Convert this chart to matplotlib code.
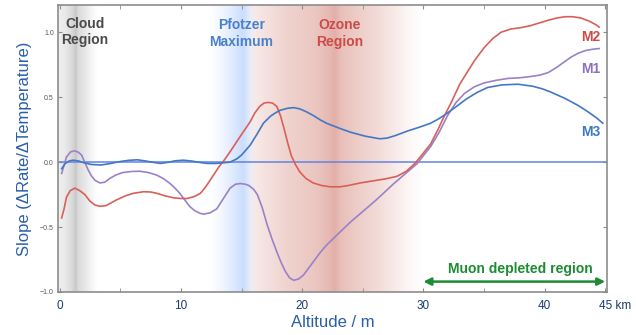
import numpy as np
import matplotlib
matplotlib.use("Agg")
import matplotlib.pyplot as plt
from matplotlib.ticker import FixedLocator
from matplotlib.transforms import ScaledTranslation

plt.rcParams['font.family'] = ['Liberation Sans', 'DejaVu Sans']

# ---- data: slope of count rate vs temperature along altitude (km) ----
m1_alt = [0.15, 0.55, 0.9, 1.24, 1.55, 1.8, 2.05, 2.34, 2.6, 2.9, 3.3, 3.7, 4.13, 4.6,
          5.2, 5.9, 6.6, 7.3, 8.0, 8.6, 9.1, 9.5, 9.9, 10.3, 10.7, 11.15, 11.6, 11.9,
          12.4, 12.95, 13.5, 14.05, 14.5, 14.9, 15.3, 15.6, 16.0, 16.3, 16.7, 17.1, 17.5,
          17.9, 18.25, 18.6, 18.95, 19.3, 19.7, 20.1, 20.5, 20.9, 21.45, 22.0, 22.55,
          23.1, 24.0, 25.0, 26.0, 26.7, 27.5, 28.5, 29.5, 30.0, 30.6, 31.3, 32.0, 32.7,
          33.4, 34.2, 35.0, 36.0, 37.0, 38.0, 38.9, 39.6, 40.3, 41.0, 41.6, 42.2, 42.8,
          43.4, 44.0, 44.5]
m1_slope = [-0.087, 0.04, 0.08, 0.087, 0.075, 0.054, 0.0, -0.06, -0.105, -0.14, -0.16,
            -0.155, -0.125, -0.10, -0.08, -0.072, -0.07, -0.08, -0.10, -0.13, -0.165,
            -0.20, -0.24, -0.29, -0.34, -0.375, -0.395, -0.40, -0.39, -0.36, -0.28, -0.20,
            -0.17, -0.165, -0.17, -0.18, -0.21, -0.25, -0.35, -0.48, -0.59, -0.69, -0.77,
            -0.84, -0.89, -0.91, -0.90, -0.87, -0.82, -0.77, -0.70, -0.64, -0.59, -0.54,
            -0.46, -0.38, -0.30, -0.24, -0.17, -0.09, -0.01, 0.05, 0.12, 0.23, 0.36, 0.46,
            0.53, 0.58, 0.61, 0.63, 0.645, 0.65, 0.66, 0.67, 0.69, 0.73, 0.77, 0.81, 0.84,
            0.86, 0.87, 0.875]

m2_alt = [0.15, 0.35, 0.55, 0.85, 1.24, 1.65, 2.07, 2.48, 2.9, 3.3, 3.8, 4.7, 5.4, 6.06,
          6.9, 7.5, 8.0, 8.7, 9.4, 10.0, 10.5, 11.1, 11.6, 12.0, 12.4, 13.1, 13.6, 14.05,
          14.9, 15.7, 16.1, 16.5, 16.85, 17.2, 17.55, 17.9, 18.2, 18.5, 18.8, 19.1, 19.45,
          19.8, 20.3, 20.9, 21.6, 22.3, 23.1, 23.8, 24.8, 25.8, 26.8, 27.8, 28.6, 29.3,
          30.0, 30.6, 31.2, 31.7, 32.3, 33.0, 33.6, 34.2, 35.0, 35.7, 36.4, 37.2, 38.0,
          38.8, 39.5, 40.2, 41.0, 41.7, 42.3, 43.0, 43.7, 44.2, 44.5]
m2_slope = [-0.43, -0.36, -0.27, -0.22, -0.20, -0.22, -0.25, -0.30, -0.33, -0.34, -0.335,
            -0.29, -0.26, -0.24, -0.228, -0.23, -0.24, -0.26, -0.275, -0.28, -0.28, -0.265,
            -0.24, -0.195, -0.14, -0.04, 0.02, 0.08, 0.20, 0.31, 0.38, 0.43, 0.455, 0.46,
            0.455, 0.43, 0.36, 0.26, 0.15, 0.05, -0.02, -0.075, -0.125, -0.16, -0.18, -0.19,
            -0.19, -0.18, -0.16, -0.145, -0.13, -0.11, -0.07, -0.01, 0.07, 0.14, 0.25, 0.35,
            0.46, 0.60, 0.69, 0.78, 0.88, 0.95, 1.0, 1.025, 1.035, 1.05, 1.07, 1.09, 1.11,
            1.12, 1.12, 1.11, 1.085, 1.06, 1.04]

m3_alt = [0.15, 0.45, 0.8, 1.1, 1.5, 2.0, 2.6, 3.4, 4.2, 5.0, 5.7, 6.4, 7.0, 7.6, 8.3,
          8.9, 9.5, 10.2, 10.9, 11.6, 12.2, 12.9, 13.5, 14.05, 14.6, 15.0, 15.7, 16.3,
          16.8, 17.4, 17.8, 18.2, 18.8, 19.3, 19.8, 20.3, 20.9, 21.5, 22.0, 23.1, 24.0,
          25.2, 26.4, 27.0, 27.7, 28.7, 29.7, 30.6, 31.2, 31.7, 32.6, 33.6, 34.5, 35.3,
          36.5, 37.8, 39.0, 39.8, 40.5, 41.1, 41.7, 42.7, 43.3, 43.7, 44.3, 44.8]
m3_slope = [-0.05, -0.01, 0.01, 0.015, 0.01, -0.005, -0.018, -0.022, -0.01, 0.005, 0.014,
            0.018, 0.01, 0.0, -0.01, -0.002, 0.01, 0.015, 0.008, -0.003, -0.01, -0.01,
            -0.005, 0.0, 0.025, 0.055, 0.13, 0.22, 0.30, 0.355, 0.38, 0.40, 0.415, 0.42,
            0.41, 0.39, 0.36, 0.325, 0.30, 0.26, 0.23, 0.20, 0.18, 0.185, 0.205, 0.24, 0.27,
            0.30, 0.33, 0.36, 0.42, 0.49, 0.54, 0.575, 0.595, 0.60, 0.585, 0.565, 0.54,
            0.515, 0.49, 0.44, 0.405, 0.38, 0.34, 0.30]

x_ticks = [0, 10, 20, 30, 40, 45]
x_tick_labels = ["0", "10", "20", "30", "40", "45 km"]
x_minor = [5, 15, 25, 35]
y_ticks = [-1.0, -0.5, 0.0, 0.5, 1.0]

# ---- figure ----
fig = plt.figure(figsize=(6.36, 3.35), dpi=100)
ax = fig.add_axes([0.0912, 0.1284, 0.8632, 0.8566])
xlim = (-0.15, 45.15)
ylim = (-1.0, 1.21)
ax.set_xlim(*xlim)
ax.set_ylim(*ylim)

# shaded atmospheric regions, composed as a horizontal colour gradient
xs = np.linspace(xlim[0], xlim[1], 1200)
img = np.ones((1, xs.size, 3))

def blend(img, color, knots, alphas):
    a = np.interp(xs, knots, alphas, left=0, right=0)[None, :, None]
    return img * (1 - a) + np.array(color)[None, None, :] * a

img = blend(img, (0.45, 0.45, 0.45),
            [-0.2, 0.0, 0.5, 1.0, 1.35, 1.45, 2.0, 2.6, 3.1],
            [0.12, 0.12, 0.17, 0.27, 0.40, 0.27, 0.18, 0.07, 0.0])
img = blend(img, (0.80, 0.87, 0.99),
            [12.5, 13.3, 14.0, 14.6, 15.1, 15.4, 15.8, 16.2],
            [0.0, 0.25, 0.5, 0.78, 1.0, 0.8, 0.3, 0.0])
img = blend(img, (0.86, 0.60, 0.56),
            [15.5, 16.2, 17.5, 19.0, 21.0, 22.2, 22.7, 23.2, 24.5, 26.0, 27.5, 28.8, 29.9],
            [0.0, 0.22, 0.33, 0.45, 0.55, 0.68, 0.78, 0.62, 0.50, 0.37, 0.22, 0.08, 0.0])
ax.imshow(img, extent=[xlim[0], xlim[1], ylim[0], ylim[1]], aspect='auto',
          interpolation='bilinear', zorder=0)

# zero reference
ax.axhline(0.0, color='#6383e3', lw=1.1, zorder=2)

c_m1, c_m2, c_m3 = '#9a82c8', '#d9605a', '#4278c4'
ax.plot(m1_alt, m1_slope, color=c_m1, lw=1.2, zorder=3, solid_joinstyle='round')
ax.plot(m2_alt, m2_slope, color=c_m2, lw=1.2, zorder=3, solid_joinstyle='round')
ax.plot(m3_alt, m3_slope, color=c_m3, lw=1.2, zorder=4, solid_joinstyle='round')

# region labels
ax.text(2.07, 1.0, "Cloud\nRegion", ha='center', va='center', fontsize=10,
        fontweight='bold', color='#4a4a4a', zorder=5)
ax.text(15.0, 0.99, "Pfotzer\nMaximum", ha='center', va='center', fontsize=10,
        fontweight='bold', color='#4a80cc', zorder=5)
ax.text(23.1, 0.99, "Ozone\nRegion", ha='center', va='center', fontsize=10,
        fontweight='bold', color='#cc4a48', zorder=5)

# series labels
ax.text(43.8, 0.96, "M2", ha='center', va='center', fontsize=10, fontweight='bold', color='#cf4a45')
ax.text(43.8, 0.72, "M1", ha='center', va='center', fontsize=10, fontweight='bold', color='#8e70c0')
ax.text(43.8, 0.23, "M3", ha='center', va='center', fontsize=10, fontweight='bold', color='#3f78c4')

# muon depleted span
ax.annotate("", xy=(30.0, -0.92), xytext=(45.0, -0.92),
            arrowprops=dict(arrowstyle='<|-|>', color='#1d8c34', lw=1.8,
                            mutation_scale=11, shrinkA=0, shrinkB=0), zorder=5)
ax.text(38.0, -0.82, "Muon depleted region", ha='center', va='center', fontsize=10,
        fontweight='bold', color='#1d8c34', zorder=5)

# axes styling
for s in ax.spines.values():
    s.set_color('#8c8c8c')
    s.set_linewidth(1.2)
ax.set_xticks(x_ticks)
ax.set_xticklabels(x_tick_labels)
ax.xaxis.set_minor_locator(FixedLocator(x_minor))
ax.set_yticks(y_ticks)
ax.set_yticklabels([f"{v:.1f}".replace('-', '\u2212') for v in y_ticks])
ax.tick_params(axis='x', which='both', direction='in', length=3, color='#8c8c8c',
               labelsize=8.5, labelcolor='#1f3a6e', pad=6, top=True)
ax.tick_params(axis='y', which='both', direction='in', length=3, color='#8c8c8c',
               labelsize=5, labelcolor='#555555', pad=3, right=True)

# the last tick label carries the unit; keep its number under the tick
last = ax.get_xticklabels()[-1]
last.set_horizontalalignment('left')
last.set_transform(last.get_transform() + ScaledTranslation(-6.5 / 100, 0, fig.dpi_scale_trans))

ax.set_xlabel("Altitude / m", fontsize=12, color='#2a5ea8', labelpad=2)
ax.set_ylabel("Slope (\u0394Rate/\u0394Temperature)", fontsize=12, color='#2a5ea8', labelpad=6)

fig.savefig("out.png", dpi=100)
